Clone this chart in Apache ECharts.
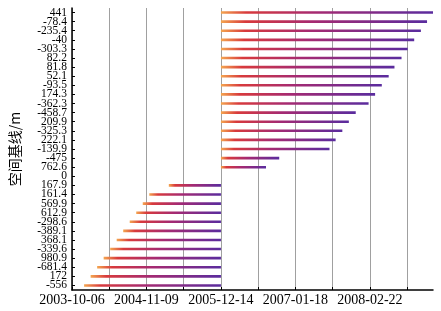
<!DOCTYPE html>
<html>
<head>
<meta charset="utf-8">
<script src="https://cdn.jsdelivr.net/npm/echarts@6/dist/echarts.min.js"></script>
<style>
html,body{margin:0;padding:0;background:#fff;}
#chart{width:441px;height:311px;}
</style>
</head>
<body>
<div id="chart"></div>
<script>
// Spatial baseline (m) of each image, top to bottom
const baselines = ['441','-78.4','-235.4','-40','-303.3','82.2','81.8','52.1','-93.5','174.3','-362.3','-458.7','209.9','-325.3','222.1','-139.9','-475','762.6','0','167.9','161.4','569.9','612.9','-298.6','-389.1','368.1','-339.6','980.9','-681.4','172','-556'];
// Acquisition date of each image (same order)
const acqDates = ['2009-01-26','2008-12-25','2008-11-22','2008-10-17','2008-09-12','2008-08-10','2008-07-03','2008-06-02','2008-04-26','2008-03-21','2008-02-15','2007-12-08','2007-11-01','2007-09-27','2007-08-22','2007-07-20','2006-10-23','2006-08-13','2005-12-14','2005-03-09','2004-11-24','2004-10-20','2004-09-15','2004-08-11','2004-07-07','2004-06-02','2004-04-28','2004-03-24','2004-02-18','2004-01-14','2003-12-10'];
// Master image date
const masterDate = '2005-12-14';
// Time axis
const axisStartDate = '2003-10-06';
const axisEndDate = '2009-01-26';
const tickDays = 200;
const labelDays = 400;

function toUTC(s){const p=s.split('-').map(Number);return Date.UTC(p[0],p[1]-1,p[2]);}
const origin = toUTC(axisStartDate);
function dayOff(s){return Math.round((toUTC(s)-origin)/86400000);}
function fmt(d){const t=new Date(origin+d*86400000);const m=String(t.getUTCMonth()+1).padStart(2,'0');const dd=String(t.getUTCDate()).padStart(2,'0');return t.getUTCFullYear()+'-'+m+'-'+dd;}

const m = dayOff(masterDate);
const barData = [];
acqDates.forEach((d,i)=>{
  if(d===masterDate) return;
  const v = dayOff(d);
  barData.push([Math.min(v,m), Math.max(v,m), i]);
});

const chart = echarts.init(document.getElementById('chart'), null, {renderer:'canvas'});
const serif = '"Liberation Serif","Times New Roman",serif';
chart.setOption({
  animation:false,
  backgroundColor:'#fff',
  grid:{left:68,right:8,top:8,bottom:21,containLabel:false},
  xAxis:{
    type:'value',
    min:0,
    max:dayOff(axisEndDate),
    interval:tickDays,
    axisLine:{show:true,lineStyle:{color:'#000',width:1.5}},
    axisTick:{show:true,inside:true,length:3,lineStyle:{color:'#000'}},
    splitLine:{show:true,showMaxLine:false,lineStyle:{color:'#a0a0a0',width:1}},
    axisLabel:{
      show:true,margin:3,color:'#000',fontFamily:serif,fontSize:14,
      showMaxLabel:false,
      formatter:function(v){return (v%labelDays===0)?fmt(v):'';}
    }
  },
  yAxis:{
    type:'category',
    data:baselines,
    inverse:true,
    name:'空间基线/m',
    nameLocation:'middle',
    nameRotate:90,
    nameGap:50,
    nameTextStyle:{color:'#000',fontSize:14,fontFamily:'"Noto Sans CJK SC",'+serif},
    axisLine:{show:true,lineStyle:{color:'#000',width:1.5}},
    axisTick:{show:true,inside:true,length:3,alignWithLabel:true,lineStyle:{color:'#000'}},
    axisLabel:{interval:0,margin:5,color:'#000',fontFamily:serif,fontSize:11.5},
    splitLine:{show:false}
  },
  series:[{
    type:'custom',
    data:barData,
    encode:{x:[0,1],y:2},
    renderItem:function(params,api){
      const p0=api.coord([api.value(0),api.value(2)]);
      const p1=api.coord([api.value(1),api.value(2)]);
      const h=2.6;
      return {
        type:'rect',
        shape:{x:p0[0],y:p0[1]-h/2,width:p1[0]-p0[0],height:h},
        style:{fill:new echarts.graphic.LinearGradient(0,0,1,0,[
          {offset:0,color:'#f4a650'},
          {offset:0.12,color:'#d83a3c'},
          {offset:0.45,color:'#a52a72'},
          {offset:1,color:'#5a2c9e'}
        ])}
      };
    }
  }]
});
</script>
</body>
</html>
